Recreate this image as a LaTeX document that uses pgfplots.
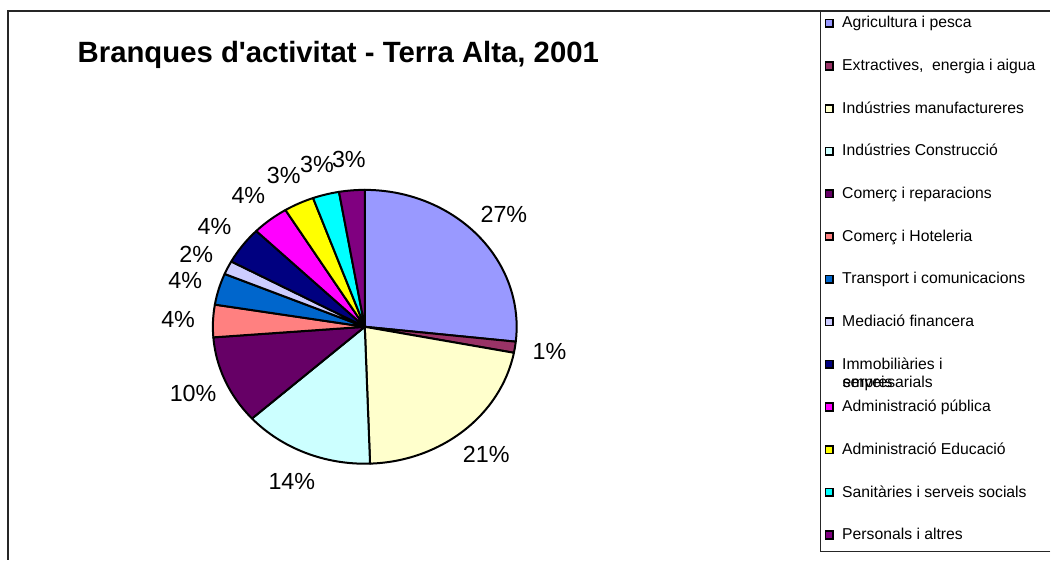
\documentclass[border=0pt]{standalone}
\usepackage{fontspec}
\setmainfont{Liberation Sans}
\usepackage{pgfplots}
\usepackage{pgfplotstable}
\pgfplotsset{compat=1.18}

% Excel palette
\definecolor{agri}{HTML}{9999FF}
\definecolor{extr}{HTML}{993366}
\definecolor{manu}{HTML}{FFFFCC}
\definecolor{cons}{HTML}{CCFFFF}
\definecolor{come}{HTML}{660066}
\definecolor{hote}{HTML}{FF8080}
\definecolor{tran}{HTML}{0066CC}
\definecolor{medi}{HTML}{CCCCFF}
\definecolor{immo}{HTML}{000080}
\definecolor{admp}{HTML}{FF00FF}
\definecolor{educ}{HTML}{FFFF00}
\definecolor{sani}{HTML}{00FFFF}
\definecolor{pers}{HTML}{800080}

\pgfplotstableread[col sep=semicolon]{
share;color;name
26.6;agri;Agricultura i pesca
1.3;extr;Extractives,~ energia i aigua
21.3;manu;Indústries manufactureres
13.8;cons;Indústries Construcció
10.4;come;Comerç i reparacions
3.8;hote;Comerç i Hoteleria
3.7;tran;Transport i comunicacions
1.6;medi;Mediació financera
4.4;immo;Immobiliàries i
3.9;admp;Administració pública
3.2;educ;Administració Educació
2.8;sani;Sanitàries i serveis socials
2.7;pers;Personals i altres
}\piedata

\pgfplotstablegetrowsof{\piedata}
\pgfmathtruncatemacro\lastrow{\pgfplotsretval-1}
\def\total{0}
\pgfplotsforeachungrouped \i in {0,...,\lastrow}{%
  \pgfplotstablegetelem{\i}{share}\of\piedata
  \pgfmathsetmacro\total{\total+\pgfplotsretval}%
}

% pie geometry (axis units = pixels)
\def\cx{365}
\def\cy{233}
\def\rx{152}
\def\ry{137}

\tikzset{
  pielabel/.style={font=\fontsize{17.5pt}{20pt}\selectfont, inner sep=0pt},
  legtext/.style={font=\fontsize{11.8pt}{14pt}\selectfont, inner sep=0pt, anchor=base west},
}

\begin{document}
\begin{tikzpicture}
\begin{axis}[
  x=0.75pt, y=0.75pt,
  xmin=0, xmax=1051, ymin=0, ymax=560,
  hide axis, clip=false,
]
\fill[white] (axis cs:0,0) rectangle (axis cs:1051,560);
% chart frame and legend box
\draw[line width=1pt, black!85] (axis cs:8,0) -- (axis cs:8,549) -- (axis cs:1051,549);
\draw[line width=1pt, black!85] (axis cs:1051,8) -- (axis cs:821,8) -- (axis cs:821,549);

\node[anchor=base west, inner sep=0pt, font=\fontsize{22pt}{25pt}\selectfont\bfseries]
  at (axis cs:77.5,497) {Branques d\textquotesingle activitat - Terra Alta, 2001};

\def\angA{90}
\pgfplotsforeachungrouped \i in {0,...,\lastrow}{%
  \pgfplotstablegetelem{\i}{share}\of\piedata \let\v=\pgfplotsretval
  \pgfplotstablegetelem{\i}{color}\of\piedata \let\col=\pgfplotsretval
  \pgfplotstablegetelem{\i}{name}\of\piedata \let\nm=\pgfplotsretval
  \pgfmathsetmacro\angB{\angA-360*\v/\total}%
  \pgfmathsetmacro\angM{(\angA+\angB)/2}%
  \pgfmathtruncatemacro\pct{round(100*\v/\total)}%
  \pgfmathsetmacro\lx{\cx+1.23*\rx*cos(\angM)}%
  \pgfmathsetmacro\ly{\cy+1.23*\ry*sin(\angM)}%
  \pgfmathsetmacro\px{\cx+\rx*cos(\angA)}%
  \pgfmathsetmacro\py{\cy+\ry*sin(\angA)}%
  \pgfmathsetmacro\my{536.7-42.67*\i}%
  \pgfmathsetmacro\mylo{\my-3.8}%
  \pgfmathsetmacro\myhi{\my+3.8}%
  \pgfmathsetmacro\by{532-42.67*\i}%
  \edef\temp{%
    \noexpand\filldraw[fill=\col, draw=black, line width=1.5pt, line join=round]
      (axis cs:\cx,\cy) -- (axis cs:\px,\py)
      arc[start angle=\angA, end angle=\angB, x radius=114pt, y radius=102.75pt] -- cycle;
    \noexpand\node[pielabel] at (axis cs:\lx,\ly) {\pct\noexpand\%};
    \noexpand\filldraw[fill=\col, draw=black, line width=1.2pt]
      (axis cs:825.9,\mylo) rectangle (axis cs:833.5,\myhi);
    \noexpand\node[legtext] at (axis cs:842.5,\by) {\unexpanded\expandafter{\nm}};
  }\temp
  \let\angA=\angB
}
% wrapped second line of the Immobiliaries entry, overprinted as in the original
\node[legtext] at (axis cs:843,172.7) {serveis};
\node[legtext] at (axis cs:843,172.7) {empresarials};
\end{axis}
\end{tikzpicture}
\end{document}
